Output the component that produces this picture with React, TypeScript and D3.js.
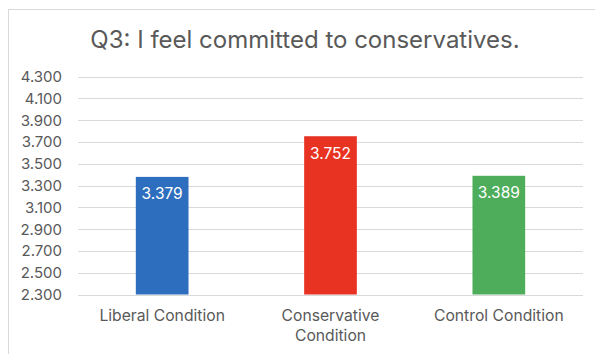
import React from "react";
import * as d3 from "d3";

const categories: string[][] = [["Liberal Condition"], ["Conservative", "Condition"], ["Control Condition"]];
const values: number[] = [3.379, 3.752, 3.389];
const barColors: string[] = ["#2E6EBE", "#E83323", "#4EAD5B"];
const yTicks: number[] = [2.3, 2.5, 2.7, 2.9, 3.1, 3.3, 3.5, 3.7, 3.9, 4.1, 4.3];
const title = "Q3: I feel committed to conservatives.";

export default function App() {
  const W = 595, H = 354;
  const left = 78, right = 583, top = 76.5, bottom = 294.5;
  const font = "Inter, 'Liberation Sans', sans-serif";
  const x = d3.scaleBand<number>().domain(d3.range(values.length)).range([left, right]).paddingInner(0.687).paddingOuter(0.3435);
  const y = d3.scaleLinear().domain([2.3, 4.3]).range([bottom, top]);
  return (
    <svg width={W} height={H} style={{ position: "absolute", left: 0, top: 0, background: "#fff" }} fontFamily={font}>
      <rect x={8.5} y={9.5} width={620} height={380} fill="#fff" stroke="#d9d9d9" strokeWidth={1} />
      <text x={305} y={48} textAnchor="middle" fontSize={24} fill="#595959">{title}</text>
      {yTicks.map((t) => (
        <g key={t}>
          <line x1={left} x2={right} y1={Math.round(y(t)) + 0.5} y2={Math.round(y(t)) + 0.5} stroke="#d9d9d9" strokeWidth={1} />
          <text x={62} y={y(t)} dy="0.36em" textAnchor="end" fontSize={15} fill="#595959">{d3.format(".3f")(t)}</text>
        </g>
      ))}
      {values.map((v, i) => (
        <g key={i}>
          <rect x={x(i)} y={y(v)} width={x.bandwidth()} height={bottom - y(v)} fill={barColors[i]} />
          <text x={(x(i) as number) + x.bandwidth() / 2} y={y(v) + 22.5} textAnchor="middle" fontSize={15.5} fill="#fff">{d3.format(".3f")(v)}</text>
          {categories[i].map((line, j) => (
            <text key={j} x={(x(i) as number) + x.bandwidth() / 2} y={320.5 + j * 20} textAnchor="middle" fontSize={15.7} fill="#595959">{line}</text>
          ))}
        </g>
      ))}
    </svg>
  );
}
